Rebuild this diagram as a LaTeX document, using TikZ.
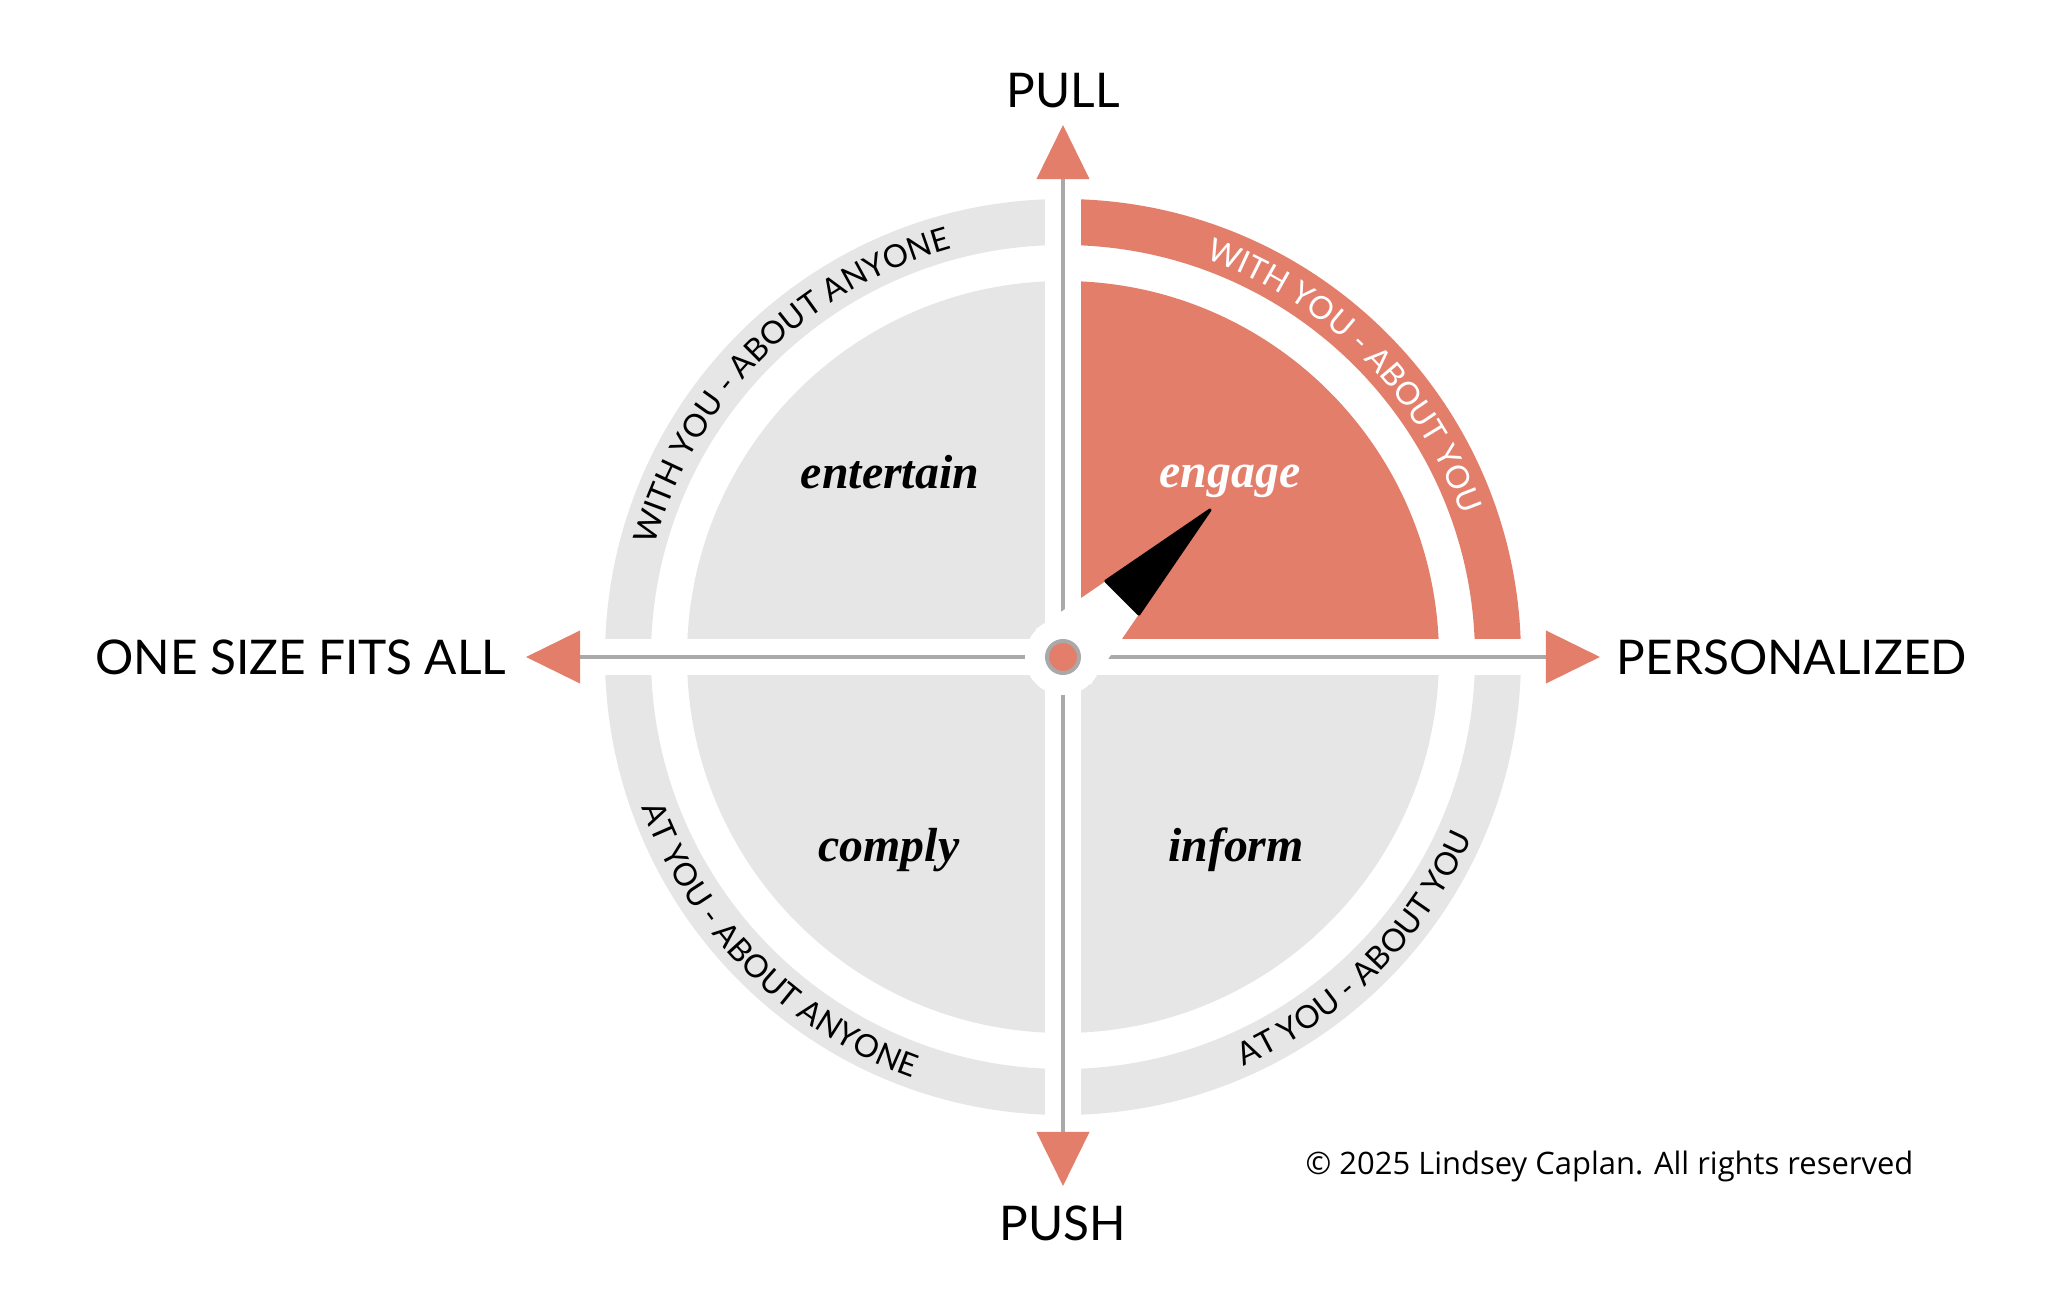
\documentclass[tikz,border=0pt]{standalone}
\usepackage{fontspec}
\usetikzlibrary{arrows.meta, decorations.text, positioning}
\newfontfamily\axisfont{Lato}
\newfontfamily\notefont{Open Sans}
\newfontfamily\modefont{Liberation Serif}
\newcommand\arcfont{\axisfont\fontsize{9.0}{11}\selectfont}
\definecolor{salmon}{HTML}{E37E6B}
\definecolor{pale}{HTML}{E6E6E6}
\definecolor{rulegrey}{HTML}{A9A9A9}

\begin{document}
\begin{tikzpicture}[x=0.01cm, y=0.01cm,
	axis/.style={draw=rulegrey, line width=0.4mm, {Triangle[length=5.4mm, width=5.2mm, color=salmon]}-{Triangle[length=5.4mm, width=5.2mm, color=salmon]}},
	gap/.style={draw=white, line width=3.6mm},
	pole/.style={font=\axisfont\fontsize{13.6}{16}\selectfont, inner sep=0pt},
	mode/.style={font=\modefont\bfseries\itshape\fontsize{13.6}{16}\selectfont, inner sep=0pt, anchor=base},
	arctext/.style 2 args={decorate, decoration={text along path, text align=center, text color=#1, text={|\arcfont|#2}}}]
	\useasboundingbox (-1063, -652) rectangle (985, 657);
	\foreach \a/\c in {0/salmon, 90/pale, 180/pale, 270/pale} {
		\fill[\c] (\a:412) arc[start angle=\a, delta angle=90, radius=412] -- ({\a+90}:458) arc[start angle=\a+90, delta angle=-90, radius=458] -- cycle;
		\fill[\c] (0, 0) -- (\a:376) arc[start angle=\a, delta angle=90, radius=376] -- cycle;
	}
	\coordinate (O) at (0, 0);
	\coordinate (N) at (0, 532);
	\coordinate (S) at (0, -529);
	\coordinate (W) at (-537, 0);
	\coordinate (E) at (537, 0);
	\draw [gap] (W) to (E);
	\draw [gap] (N) to (S);
	\draw [axis] (W) to (E);
	\draw [axis] (S) to (N);
	\fill[white] (O) circle[radius=38];
	\fill[white] (-27.6, 27.6) -- (42.9, 75.9) -- (75.9, 42.9) -- (27.6, -27.6) -- cycle;
	\filldraw[black, line join=round, line width=0.3mm] (42.9, 75.9) -- (147.1, 147.1) -- (75.9, 42.9) -- cycle;
	\filldraw[fill=salmon, draw=rulegrey, line width=0.4mm] (O) circle[radius=16];
	\path [arctext={black}{WITH YOU - ABOUT ANYONE}] (180:423) arc[start angle=180, end angle=90, radius=423];
	\path [arctext={white}{WITH YOU - ABOUT YOU}] (90:423) arc[start angle=90, end angle=0, radius=423];
	\path [arctext={black}{AT YOU - ABOUT ANYONE}] (180:447) arc[start angle=180, end angle=270, radius=447];
	\path [arctext={black}{AT YOU - ABOUT YOU}] (270:447) arc[start angle=270, end angle=360, radius=447];
	\node [mode] (entertain) at (-173, 168) {entertain};
	\node [mode, text=white] (engage) at (167, 169) {engage};
	\node [mode] (comply) at (-174, -205) {comply};
	\node [mode] (inform) at (173, -205) {inform};
	\node [pole] (pull) at (0, 566) {PULL};
	\node [pole] (push) at (0, -566) {PUSH};
	\node [pole, anchor=east] (fits) at (-556, 0) {ONE SIZE FITS ALL};
	\node [pole, anchor=west] (personal) at (553, 0) {PERSONALIZED};
	\node [font=\notefont\fontsize{8.8}{10}\selectfont, anchor=base west, inner sep=0pt] (note) at (242, -517) {© 2025 Lindsey Caplan. All rights reserved};
\end{tikzpicture}
\end{document}
